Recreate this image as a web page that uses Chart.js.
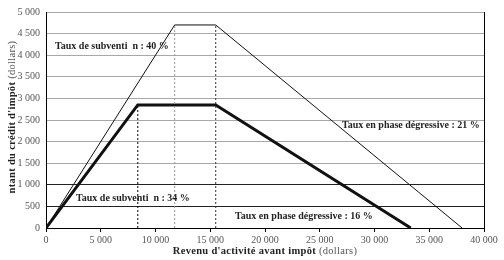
<!DOCTYPE html>
<html>
<head>
<meta charset="utf-8">
<script src="https://cdn.jsdelivr.net/npm/chart.js@4"></script>
<style>
  html, body { margin: 0; padding: 0; background: #fff; }
  #wrap { width: 504px; height: 260px; position: relative; }
</style>
</head>
<body>
<div id="wrap"><canvas id="creditChart"></canvas></div>
<script>
// Revenu (dollars) and credit (dollars) at the kinks of each schedule
const taux40X = [0, 11750, 15500, 38000];
const taux40Y = [0, 4700, 4700, 0];
const taux34X = [0, 8382, 15500, 33312];
const taux34Y = [0, 2850, 2850, 0];

const xTicks = [0, 5000, 10000, 15000, 20000, 25000, 30000, 35000, 40000];
const yTicks = [0, 500, 1000, 1500, 2000, 2500, 3000, 3500, 4000, 4500, 5000];

const notes = [
  { text: 'Taux de subventi  n : 40 %', x: 55, y: 49 },
  { text: 'Taux de subventi  n : 34 %', x: 76, y: 201 },
  { text: 'Taux en phase dégressive : 21 %', x: 342, y: 128 },
  { text: 'Taux en phase dégressive : 16 %', x: 235, y: 219 }
];

const pts = (xs, ys) => xs.map((x, i) => ({ x: x, y: ys[i] }));
const fmt = v => String(v).replace(/\B(?=(\d{3})+(?!\d))/g, ' ');

// dotted guides under the kinks
const guide = (x, top, color) => ({
  data: [{ x: x, y: 0 }, { x: x, y: top }],
  borderColor: color, borderWidth: 1, borderDash: [2, 2],
  pointRadius: 0, fill: false
});

// title made of a bold part and a normal part, centred on 0
const twoPart = (ctx, bold, normal, y) => {
  ctx.font = 'bold 10.5px "Liberation Serif"';
  const w1 = ctx.measureText(bold).width;
  ctx.font = '10.5px "Liberation Serif"';
  const w2 = ctx.measureText(normal).width;
  const sx = -(w1 + w2) / 2;
  ctx.fillStyle = '#222';
  ctx.font = 'bold 10.5px "Liberation Serif"';
  ctx.fillText(bold, sx, y);
  ctx.fillStyle = '#555';
  ctx.font = '10.5px "Liberation Serif"';
  ctx.fillText(normal, sx + w1, y);
};

const textPlugin = {
  id: 'texts',
  afterDraw(chart) {
    const ctx = chart.ctx;
    const a = chart.chartArea;
    ctx.save();
    // right border
    ctx.strokeStyle = '#000';
    ctx.lineWidth = 1;
    ctx.beginPath();
    ctx.moveTo(a.right + 0.5, a.top);
    ctx.lineTo(a.right + 0.5, a.bottom);
    ctx.stroke();

    ctx.fillStyle = '#222';
    ctx.textBaseline = 'alphabetic';
    ctx.font = 'bold 10px "Liberation Serif"';
    notes.forEach(n => ctx.fillText(n.text, n.x, n.y));

    ctx.letterSpacing = '0.3px';
    ctx.save();
    ctx.translate(265, 0);
    twoPart(ctx, "Revenu d'activité avant impôt", ' (dollars)', 254);
    ctx.restore();

    ctx.save();
    ctx.translate(15, 117);
    ctx.rotate(-Math.PI / 2);
    twoPart(ctx, "ntant du crédit d'impôt", ' (dollars)', 0);
    ctx.restore();
    ctx.restore();
  }
};

new Chart(document.getElementById('creditChart').getContext('2d'), {
  type: 'line',
  data: {
    datasets: [
      guide(taux34X[1], taux34Y[1], '#000'),
      guide(taux40X[1], taux40Y[1], '#999'),
      guide(taux40X[2], taux40Y[2], '#333'),
      {
        data: pts(taux40X, taux40Y),
        borderColor: '#111', borderWidth: 1,
        pointRadius: 0, fill: false, tension: 0
      },
      {
        data: pts(taux34X, taux34Y),
        borderColor: '#111', borderWidth: 3,
        pointRadius: 0, fill: false, tension: 0
      }
    ]
  },
  options: {
    responsive: true,
    maintainAspectRatio: false,
    animation: false,
    layout: { padding: { top: 9, right: 20, left: 0, bottom: 0 } },
    plugins: { legend: { display: false }, tooltip: { enabled: false } },
    scales: {
      x: {
        type: 'linear',
        min: 0, max: 40000,
        afterBuildTicks: s => { s.ticks = xTicks.map(v => ({ value: v })); },
        afterFit: s => { s.height = 32; },
        ticks: {
          callback: v => fmt(v),
          font: { family: 'Liberation Serif', size: 10 },
          color: '#555', padding: 2, maxRotation: 0
        },
        grid: { drawOnChartArea: false, drawTicks: true, tickLength: 4, color: '#000' },
        border: { color: '#000', width: 1 }
      },
      y: {
        min: 0, max: 5000,
        afterBuildTicks: s => { s.ticks = yTicks.map(v => ({ value: v })); },
        afterFit: s => { s.width = 46; },
        ticks: {
          callback: v => fmt(v),
          font: { family: 'Liberation Serif', size: 10 },
          color: '#555', padding: 6
        },
        grid: {
          drawTicks: false,
          color: c => (c.tick.value === 500 || c.tick.value === 1000) ? '#222' : '#a8a8a8'
        },
        border: { color: '#000', width: 1 }
      }
    }
  },
  plugins: [textPlugin]
});
</script>
</body>
</html>
